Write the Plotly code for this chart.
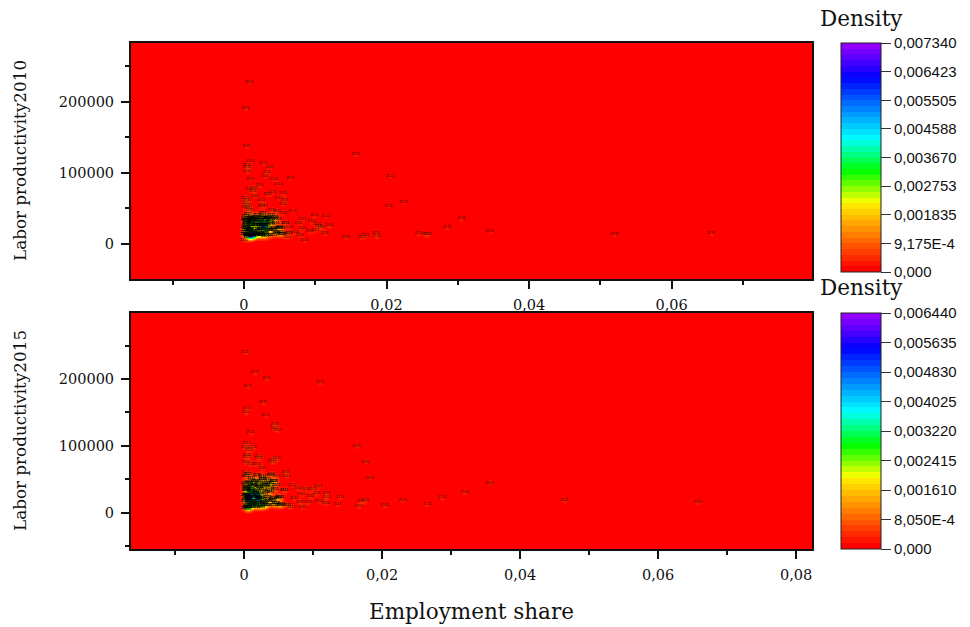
import numpy as np
import plotly.graph_objects as go

# Panel 1 (2010): x = employment share, y = labour productivity (thousands)
x1_out = [.00075,.0002,.0003,.0157,.0009,.0027,.0004,.0036,.0004,.0004,.0032,.0029,.0205,.0009,.0041,.0065,.0048,.0022,.0014,.0007,.0012,.0033,.0039,.0055,.0015,.0048,.0024,.0057,.0001,.0004,.0001,.0005,.0002,.0006,.0055,.0224,.0203,.0027,.0024,.0008,.0039,.0046,.0055,.0068,.0099,.0115,.0082,.0095,.0103,.012,.0076,.0109,.01,.0113,.0085,0,.006,.0143,.0165,.017,.0185,.0186,.0245,.0255,.0258,.0285,.0305,.0345,.052,.0655,.0081,.0092,.0105,.0072,.0063,.0078]
y1_out = [228,192,138,126,117,114,111,108,108,103,101,96,96,92,92,93,85,83,79,78,74,70,73,72,67,65,62,62,65,62,58,55,52,50,56,59,53,55,53,48,48,46,44,47,41,40,35,32,28,26,29,24,20,16,6,6,10,10,10,12,15,11,15,14,14,24,36,18,14,15,22,18,25,17,24,13]
x1_core = [.0001,.0002,.0003,.0004,.0005,.0006,.0007,.0008,.001,.0012,.0014,.0016,.0018,.002,.0022,.0024,.0026,.0028,.003,.0032,
           .0001,.0003,.0005,.0007,.0009,.0011,.0013,.0015,.0017,.0019,.0021,.0023,.0025,.0027,.0029,.0031,.0034,.0037,.004,.0043,
           .0002,.0004,.0006,.0008,.001,.0012,.0014,.0016,.0018,.002,.0022,.0024,.0026,.0029,.0032,.0035,.0038,.0041,.0045,.005,
           .0001,.0003,.0005,.0007,.0009,.0011,.0014,.0017,.002,.0023,.0026,.003,.0034,.0038,.0042,.0046,.005,.0054,.0058,.0062,
           .0006,.0012,.0018,.0024,.0003,.0015,.0027,.0009,.0021,.0033,.0005,.0038,.0048,.0052,.0044,.0036,.0041,.0034,.0029,.0047,
           .0001,.0004,.0002,.0006,.0011,.0019,.0028,.0036,.0003,.0009,.0016,.0023,.0034,.0002,.0006,.0013,.0021,.0031,.0042,.0052]
y1_core = [17,34,22,29,12,20,37,15,31,12,35,18,30,12,38,14,21,33,11,36,
           35,14,32,19,13,34,16,38,36,14,33,30,12,37,18,27,13,31,19,38,
           40,12,36,21,38,11,32,14,41,17,34,13,39,16,36,29,35,21,15,17,
           14,30,42,19,26,37,21,13,33,23,43,14,19,28,36,17,24,14,30,15,
           12,15,18,21,24,27,30,33,36,38,10,41,22,14,30,20,13,37,24,35,
           24,25,28,11,24,26,15,34,33,31,26,27,22,20,17,28,21,33,22,23]
x1_hot = [.0027,.0028,.0026,.0027,.001,.0011,.0009,.001]
y1_hot = [27,26,27,28,13,14,13,12]
# Panel 2 (2015)
x2_out = [.0001,.0015,.0032,.011,.0005,.0027,.0004,.0002,.0031,.0044,.0043,.0048,.0009,.0003,.0001,.0012,.0007,.0163,.0004,.0003,.0021,.0021,.0047,.0041,.004,.0176,.0002,.0009,.0018,.0026,.0182,.0002,.004,.006,.0061,.0047,.007,.0107,.0077,.0089,.0099,.0105,.0119,.0119,.0139,.0108,.0118,.0135,.0068,.0084,.008,.0093,.0175,.0169,.0166,.0204,.023,.0265,.0287,.032,.0356,.0464,.0658,.0083,.0072,.0096]
y2_out = [240,210,202,195,190,165,157,150,146,133,127,124,120,104,98,98,94,100,86,83,85,82,81,79,76,76,75,73,73,67,52,61,58,60,55,54,42,40,37,36,35,29,29,24,24,17,15,13,9,9,16,16,19,17,10,11,19,13,23,31,45,19,16,28,22,25]
x2_core = [.0001,.0002,.0003,.0004,.0005,.0006,.0007,.0008,.001,.0012,.0014,.0016,.0018,.002,.0022,.0024,.0026,.0028,.003,.0032,
           .0001,.0003,.0005,.0007,.0009,.0011,.0013,.0015,.0017,.0019,.0021,.0023,.0025,.0027,.0029,.0031,.0034,.0037,.004,.0043,
           .0002,.0004,.0006,.0008,.001,.0012,.0014,.0016,.0018,.002,.0022,.0024,.0026,.0029,.0032,.0035,.0038,.0041,.0045,.005,
           .0001,.0003,.0005,.0007,.0009,.0011,.0014,.0017,.002,.0023,.0026,.003,.0034,.0038,.0042,.0046,.005,.0054,.0058,.0062,
           .0006,.0012,.0018,.0024,.0003,.0015,.0027,.0009,.0021,.0033,.0005,.0038,.0048,.0052,.0044,.0036,.0041,.0034,.0029,.0047,
           .0001,.0004,.0002,.0006,.0011,.0019,.0028,.0036,.0003,.0009,.0016,.0023,.0034,.0002,.0006,.0013,.0021,.0031,.0042,.0052]
y2_core = [17,40,22,34,10,20,44,15,36,12,42,18,34,10,46,14,21,41,11,42,
           45,12,38,19,11,43,16,47,47,14,40,36,10,50,16,31,12,37,17,47,
           54,8,46,21,52,9,42,13,56,18,39,8,50,16,44,33,44,19,14,12,
           7,36,57,17,32,48,24,9,40,22,55,11,18,31,47,15,24,13,34,12,
           9,13,17,22,26,30,35,40,45,50,6,56,22,12,35,20,11,46,27,42,
           27,28,34,8,29,31,14,41,38,35,30,30,24,20,16,33,22,40,22,24]
x2_hot = [.0018,.0019,.0017,.0018,.0006,.0007,.0005,.0006]
y2_hot = [25,24,25,26,25,26,25,24]

x_ticks_1 = [0,.02,.04,.06]
x_ticks_2 = [0,.02,.04,.06,.08]
x_labels_1 = ["0","0,02","0,04","0,06"]
x_labels_2 = ["0","0,02","0,04","0,06","0,08"]
y_ticks = [0,100000,200000]
y_labels = ["0","100000","200000"]
cb1_vals = [0,9.175e-4,.001835,.002753,.00367,.004588,.005505,.006423,.00734]
cb1_text = ["0,000","9,175E-4","0,001835","0,002753","0,003670","0,004588","0,005505","0,006423","0,007340"]
cb2_vals = [0,8.05e-4,.00161,.002415,.00322,.004025,.00483,.005635,.00644]
cb2_text = ["0,000","8,050E-4","0,001610","0,002415","0,003220","0,004025","0,004830","0,005635","0,006440"]
label_1 = "2511"
label_2 = "2511"
CORE_WEIGHT = 1.5
HOT_WEIGHT = 3.5

SERIF = "DejaVu Serif"
SANS = "Liberation Sans"
W, H = 970, 627

def hsv(h):
    c = 1.0; hp = h/60; v = c*(1-abs(hp % 2 - 1)); i = int(hp) % 6
    r, g, b = [(c,v,0),(v,c,0),(0,c,v),(0,v,c),(v,0,c),(c,0,v)][i]
    return f"rgb({int(r*255)},{int(g*255)},{int(b*255)})"

def stepped(n=40):
    knots_t = [0,.287,.44,.585,.86,1]
    knots_h = [0,55,120,180,240,275]
    out = []
    for i in range(n):
        h = float(np.interp(i/(n-1), knots_t, knots_h))
        out += [[i/n, hsv(h)], [(i+1)/n, hsv(h)]]
    return out

def density(xo, yo, xc, yc, xh, yh, xr, yr, top, sx, sy):
    gx = np.linspace(xr[0], xr[1], 340)
    gy = np.linspace(yr[0], yr[1], 118)
    xs = np.array(xo+xc+xh); ys = np.array(yo+yc+yh)*1000.0
    ws = np.array([1.0]*len(xo)+[CORE_WEIGHT]*len(xc)+[HOT_WEIGHT]*len(xh))
    ex = np.exp(-0.5*((gx[None,:]-xs[:,None])/sx)**2)
    ey = np.exp(-0.5*((gy[None,:]-ys[:,None])/sy)**2)
    z = np.einsum("p,pi,pj->ij", ws, ey, ex)
    z = z/z.max()*top
    return gx, gy, np.round(z, 6)

fig = go.Figure()
panels = [
 (x1_out,y1_out,x1_core,y1_core,x1_hot,y1_hot,[-.01585,.0797],[-49300,283000],.00734,cb1_vals,cb1_text,43,272,label_1,"",""),
 (x2_out,y2_out,x2_core,y2_core,x2_hot,y2_hot,[-.0164,.0823],[-54500,299000],.00644,cb2_vals,cb2_text,313,549,label_2,"2","2"),
]
for (xo,yo,xc,yc,xh,yh,xr,yr,top,cv,ct,cb_t,cb_b,lab,xa,ya) in panels:
    gx,gy,z = density(xo,yo,xc,yc,xh,yh,xr,yr,top,.00034,3400)
    fig.add_trace(go.Heatmap(x=gx,y=gy,z=z,zmin=0,zmax=top,zsmooth="best",colorscale=stepped(),
        xaxis="x"+xa,yaxis="y"+ya,hoverinfo="skip",
        colorbar=dict(x=841/W,xanchor="left",xpad=0,ypad=0,thickness=40,thicknessmode="pixels",
            lenmode="pixels",len=cb_b-cb_t,y=1-cb_t/H,yanchor="top",outlinecolor="#222",outlinewidth=1,
            tickmode="array",tickvals=cv,ticktext=ct,ticks="outside",ticklen=10,tickwidth=1,tickcolor="#333",
            tickfont=dict(family=SANS,size=15,color="#111"))))
    fig.add_trace(go.Scatter(x=xo,y=[v*1000 for v in yo],mode="text",text=[lab]*len(xo),
        textfont=dict(size=3.8,family=SANS,color="#300"),textposition="middle center",
        xaxis="x"+xa,yaxis="y"+ya,showlegend=False,hoverinfo="skip"))
    fig.add_trace(go.Scatter(x=xc+xh,y=[v*1000 for v in yc+yh],mode="text",text=[lab]*len(xc+xh),
        textfont=dict(size=3.8,family=SANS,color="black",weight="bold"),textposition="middle center",
        xaxis="x"+xa,yaxis="y"+ya,showlegend=False,hoverinfo="skip"))

def ax(domain, rng, tv, tt, dt, standoff, anchor):
    return dict(domain=domain,range=rng,tickmode="array",tickvals=tv,ticktext=tt,ticks="outside",ticklen=8,tickwidth=2,
        tickcolor="#111",showline=True,linecolor="#111",linewidth=2,mirror=True,showgrid=False,zeroline=False,
        tickfont=dict(family=SERIF,size=14.5,color="#111"),ticklabelstandoff=standoff,anchor=anchor,
        minor=dict(ticks="outside",ticklen=4,tickwidth=2,tickcolor="#111",dtick=dt,showgrid=False))

def note(text, x, y, size, angle=0):
    return dict(text=text,x=x/W,y=1-y/H,xref="paper",yref="paper",xanchor="center",yanchor="middle",textangle=angle,
                showarrow=False,font=dict(family=SERIF,size=size,color="#111"))

fig.update_layout(width=W,height=H,margin=dict(l=0,r=0,t=0,b=0,autoexpand=False),paper_bgcolor="white",plot_bgcolor="red",
    showlegend=False,
    xaxis=ax([131/W,812/W],panels[0][6],x_ticks_1,x_labels_1,.01,4,"y"),
    yaxis=ax([1-279/H,1-43/H],panels[0][7],y_ticks,y_labels,50000,4,"x"),
    xaxis2=ax([131/W,812/W],panels[1][6],x_ticks_2,x_labels_2,.01,4,"y2"),
    yaxis2=ax([1-549/H,1-313/H],panels[1][7],y_ticks,y_labels,50000,4,"x2"),
    annotations=[
     note("Labor productivity2010",20,161,16.8,-90),
     note("Labor productivity2015",20,431,16.8,-90),
     note("Employment share",471,611,21.5),
     note("Density",861,18,21.5),
     note("Density",861,288,21.5),
    ])
fig.write_html("out.html",post_script="document.body.style.margin='0';",config=dict(displayModeBar=False))
